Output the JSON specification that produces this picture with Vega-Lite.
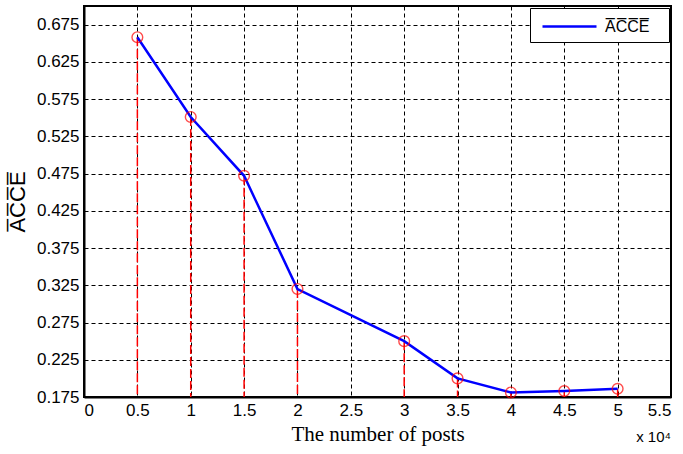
{
  "$schema": "https://vega.github.io/schema/vega-lite/v6.json",
  "autosize": {"type": "none"},
  "padding": {"left": 84, "top": 6, "right": 12, "bottom": 57},
  "width": 587,
  "height": 391,
  "background": "white",
  "title": {
    "text": "x 10⁴",
    "orient": "bottom",
    "anchor": "end",
    "frame": "group",
    "offset": -14,
    "font": "Liberation Sans",
    "fontSize": 15,
    "fontWeight": "normal",
    "color": "black"
  },
  "config": {
    "view": {"stroke": "black", "strokeWidth": 2},
    "axis": {
      "domainColor": "black",
      "domainWidth": 2,
      "ticks": false,
      "grid": true,
      "gridColor": "black",
      "gridDash": [4, 3],
      "gridWidth": 1,
      "gridOpacity": 1,
      "labelFont": "Liberation Sans",
      "labelFontSize": 17,
      "labelColor": "black"
    }
  },
  "data": {
    "values": [
      {"posts": 0.5, "acce": 0.658, "series": "A̅C̅C̅E̅"},
      {"posts": 1.0, "acce": 0.551, "series": "A̅C̅C̅E̅"},
      {"posts": 1.5, "acce": 0.472, "series": "A̅C̅C̅E̅"},
      {"posts": 2.0, "acce": 0.320, "series": "A̅C̅C̅E̅"},
      {"posts": 3.0, "acce": 0.250, "series": "A̅C̅C̅E̅"},
      {"posts": 3.5, "acce": 0.200, "series": "A̅C̅C̅E̅"},
      {"posts": 4.0, "acce": 0.181, "series": "A̅C̅C̅E̅"},
      {"posts": 4.5, "acce": 0.183, "series": "A̅C̅C̅E̅"},
      {"posts": 5.0, "acce": 0.186, "series": "A̅C̅C̅E̅"}
    ]
  },
  "encoding": {
    "x": {
      "field": "posts",
      "type": "quantitative",
      "scale": {"domain": [0, 5.5], "nice": false, "zero": false},
      "axis": {
        "values": [0, 0.5, 1, 1.5, 2, 2.5, 3, 3.5, 4, 4.5, 5, 5.5],
        "format": "~g",
        "labelPadding": 5,
        "title": "The number of posts",
        "titleFont": "Liberation Serif",
        "titleFontSize": 21,
        "titleFontWeight": "normal",
        "titleColor": "black",
        "titlePadding": 5
      }
    },
    "y": {
      "field": "acce",
      "type": "quantitative",
      "scale": {"domain": [0.175, 0.7], "nice": false, "zero": false},
      "axis": {
        "values": [0.175, 0.225, 0.275, 0.325, 0.375, 0.425, 0.475, 0.525, 0.575, 0.625, 0.675],
        "format": ".3f",
        "labelPadding": 5,
        "title": "A̅C̅C̅E̅",
        "titleFont": "Liberation Sans",
        "titleFontSize": 22,
        "titleFontWeight": "normal",
        "titleColor": "black",
        "titlePadding": 7
      }
    }
  },
  "layer": [
    {
      "mark": {"type": "rule", "color": "#ff0000", "strokeWidth": 1.5, "strokeDash": [9, 3]},
      "encoding": {
        "y2": {"datum": 0.175}
      }
    },
    {
      "mark": {"type": "line", "color": "#0000ff", "strokeWidth": 2.5},
      "encoding": {
        "color": {
          "field": "series",
          "type": "nominal",
          "scale": {"range": ["#0000ff"]},
          "legend": {
            "title": null,
            "orient": "top-right",
            "offset": 2,
            "padding": 7,
            "strokeColor": "black",
            "fillColor": "white",
            "symbolType": "M-0.6,0H4.8",
            "symbolSize": 400,
            "symbolStrokeWidth": 2.5,
            "labelFont": "Liberation Sans",
            "labelFontSize": 16,
            "labelColor": "black",
            "labelOffset": 45,
            "labelExpr": "datum.label + '\u2800'"
          }
        }
      }
    },
    {
      "mark": {"type": "point", "shape": "circle", "filled": false, "color": "#ff0000", "size": 115, "strokeWidth": 1.4}
    }
  ]
}
